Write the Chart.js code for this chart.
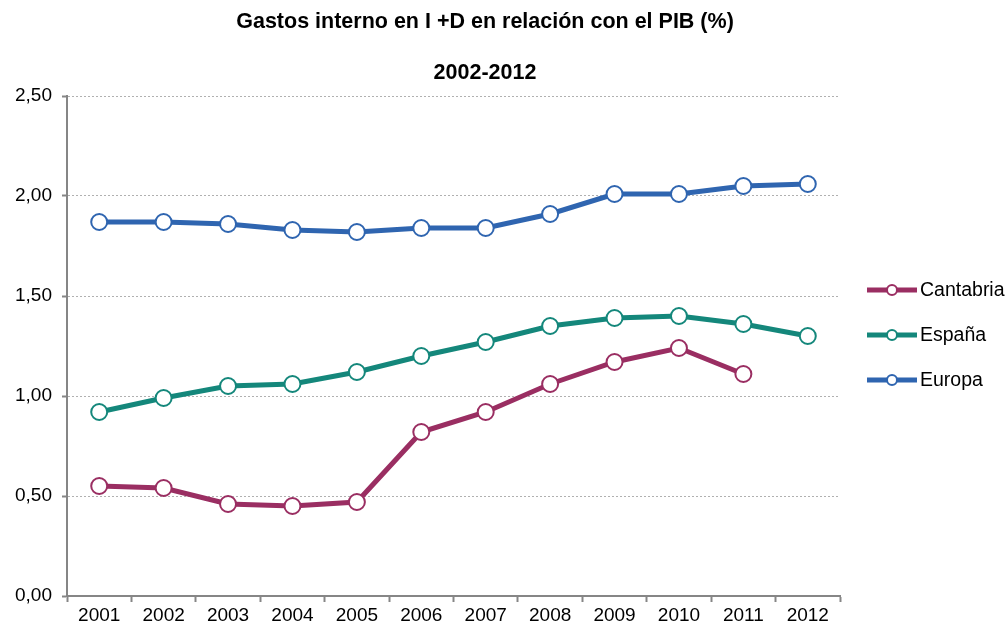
<!DOCTYPE html>
<html>
<head>
<meta charset="utf-8">
<script src="https://cdn.jsdelivr.net/npm/chart.js@4"></script>
<style>
html,body{margin:0;padding:0;background:#fff;}
#wrap{width:1006px;height:628px;}
</style>
</head>
<body>
<div id="wrap"><canvas id="c" width="1006" height="628"></canvas></div>
<script>
const categories = ["2001","2002","2003","2004","2005","2006","2007","2008","2009","2010","2011","2012"];
const cantabria = [0.55,0.54,0.46,0.45,0.47,0.82,0.92,1.06,1.17,1.24,1.11,null];
const espana = [0.92,0.99,1.05,1.06,1.12,1.20,1.27,1.35,1.39,1.40,1.36,1.30];
const europa = [1.87,1.87,1.86,1.83,1.82,1.84,1.84,1.91,2.01,2.01,2.05,2.06];
const seriesNames = ["Cantabria","España","Europa"];
const titleText = "Gastos interno en I +D en relación con el PIB (%)";
const subtitleText = "2002-2012";

const colors = ["#9A2E62","#14877B","#2F65B0"];
const FONT = "'Liberation Sans', Arial, Helvetica, sans-serif";

function ds(label, data, color){
  return {
    label, data,
    borderColor: color, backgroundColor: color,
    borderWidth: 5,
    pointRadius: 8, pointHoverRadius: 8,
    pointBackgroundColor: "#fff", pointBorderColor: color, pointBorderWidth: 2,
    tension: 0, spanGaps: false
  };
}

const decor = {
  id: 'decor',
  afterDraw(chart){
    const ctx = chart.ctx;
    ctx.save();
    ctx.fillStyle = "#000";
    ctx.textAlign = "center";
    ctx.textBaseline = "middle";
    ctx.font = "bold 21.5px " + FONT;
    ctx.fillText(titleText, 485, 22);
    ctx.fillText(subtitleText, 485, 73);
    chart.data.datasets.forEach((d, i) => {
      const y = 290 + 45*i;
      ctx.strokeStyle = d.borderColor;
      ctx.lineWidth = 5;
      ctx.lineCap = "butt";
      ctx.beginPath(); ctx.moveTo(867, y); ctx.lineTo(917, y); ctx.stroke();
      ctx.beginPath(); ctx.arc(892, y, 5, 0, Math.PI*2);
      ctx.fillStyle = "#fff"; ctx.fill();
      ctx.lineWidth = 2; ctx.stroke();
      ctx.fillStyle = "#000";
      ctx.textAlign = "left";
      ctx.font = "19.5px " + FONT;
      ctx.fillText(d.label, 920, y + 1);
    });
    ctx.restore();
  }
};

new Chart(document.getElementById('c'), {
  type: 'line',
  data: {
    labels: categories,
    datasets: [
      ds(seriesNames[0], cantabria, colors[0]),
      ds(seriesNames[1], espana, colors[1]),
      ds(seriesNames[2], europa, colors[2])
    ]
  },
  options: {
    responsive: false,
    animation: false,
    events: [],
    layout: { padding: { top: 96, right: 166, left: 0, bottom: 0 } },
    plugins: { legend: { display: false }, title: { display: false }, tooltip: { enabled: false } },
    scales: {
      x: {
        offset: true,
        grid: { offset: true, drawOnChartArea: false, drawTicks: true, tickLength: 6, tickColor: "#868686", tickWidth: 2 },
        border: { display: true, color: "#868686", width: 2 },
        ticks: { color: "#000", font: { family: FONT, size: 19 }, padding: 2, maxRotation: 0, autoSkip: false },
        afterFit(s){ s.height = 32; }
      },
      y: {
        min: 0, max: 2.5,
        grid: { color: "#B0B0B0", lineWidth: 1, drawTicks: true, tickLength: 5, tickColor: "#868686", tickWidth: 2 },
        border: { display: true, color: "#868686", width: 2, dash: [2,2] },
        ticks: {
          stepSize: 0.5, color: "#000", font: { family: FONT, size: 19 }, padding: 10,
          callback: v => v.toFixed(2).replace('.', ',')
        },
        afterFit(s){ s.width = 67; }
      }
    }
  },
  plugins: [decor]
});
</script>
</body>
</html>
